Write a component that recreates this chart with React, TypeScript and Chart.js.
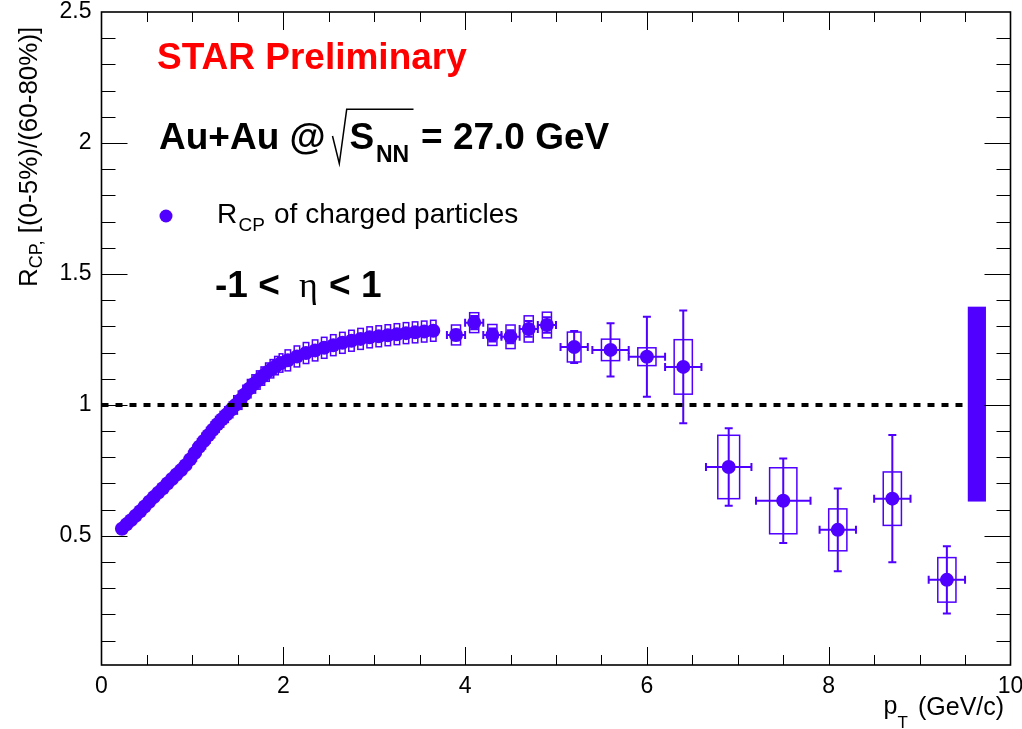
import React, { useEffect, useRef } from "react";
import { Chart, registerables } from "chart.js";

Chart.register(...registerables);

// ---------------- data ----------------
const pt = [
  0.225, 0.275, 0.325, 0.375, 0.425, 0.475, 0.525, 0.575, 0.625, 0.675,
  0.725, 0.775, 0.825, 0.875, 0.925, 0.975, 1.025, 1.075, 1.125, 1.175,
  1.225, 1.275, 1.325, 1.375, 1.425, 1.475, 1.525, 1.575, 1.625, 1.675,
  1.725, 1.775, 1.825, 1.875, 1.925, 1.975,
  2.05, 2.15, 2.25, 2.35, 2.45, 2.55, 2.65, 2.75, 2.85, 2.95,
  3.05, 3.15, 3.25, 3.35, 3.45, 3.55, 3.65,
  3.9, 4.1, 4.3, 4.5, 4.7, 4.9,
  5.2, 5.6, 6.0, 6.4, 6.9, 7.5, 8.1, 8.7, 9.3,
];

const rcp = [
  0.527, 0.544, 0.56, 0.577, 0.594, 0.612, 0.63, 0.648, 0.665, 0.682,
  0.7, 0.717, 0.734, 0.751, 0.77, 0.792, 0.816, 0.84, 0.862, 0.884,
  0.905, 0.926, 0.945, 0.963, 0.981, 1.0, 1.018, 1.04, 1.062, 1.08,
  1.095, 1.11, 1.125, 1.138, 1.15, 1.16,
  1.17, 1.185, 1.198, 1.208, 1.218, 1.228, 1.237, 1.245, 1.252, 1.258,
  1.262, 1.266, 1.27, 1.274, 1.277, 1.28, 1.283,
  1.267, 1.314, 1.267, 1.26, 1.29, 1.305,
  1.221, 1.21, 1.184, 1.145, 0.763, 0.634, 0.523, 0.642, 0.332,
];

const statY = [
  0.005, 0.005, 0.005, 0.005, 0.005, 0.005, 0.005, 0.005, 0.005, 0.005,
  0.005, 0.005, 0.005, 0.005, 0.005, 0.005, 0.005, 0.005, 0.005, 0.005,
  0.005, 0.005, 0.005, 0.005, 0.005, 0.005, 0.005, 0.005, 0.005, 0.005,
  0.005, 0.005, 0.005, 0.005, 0.005, 0.005,
  0.006, 0.006, 0.006, 0.006, 0.006, 0.007, 0.007, 0.008, 0.008, 0.009,
  0.01, 0.01, 0.011, 0.012, 0.013, 0.014, 0.015,
  0.02, 0.025, 0.025, 0.025, 0.03, 0.03,
  0.061, 0.102, 0.153, 0.215, 0.148, 0.161, 0.158, 0.243, 0.128,
];

const statX = [
  0, 0, 0, 0, 0, 0, 0, 0, 0, 0,
  0, 0, 0, 0, 0, 0, 0, 0, 0, 0,
  0, 0, 0, 0, 0, 0, 0, 0, 0, 0,
  0, 0, 0, 0, 0, 0,
  0, 0, 0, 0, 0, 0, 0, 0, 0, 0,
  0, 0, 0, 0, 0, 0, 0,
  0.1, 0.1, 0.1, 0.1, 0.1, 0.1,
  0.15, 0.2, 0.2, 0.2, 0.25, 0.3, 0.2, 0.2, 0.2,
];

const sysY = [
  0.02, 0.02, 0.02, 0.02, 0.02, 0.02, 0.02, 0.02, 0.02, 0.02,
  0.02, 0.02, 0.02, 0.02, 0.02, 0.02, 0.03, 0.03, 0.03, 0.03,
  0.03, 0.03, 0.03, 0.03, 0.03, 0.035, 0.035, 0.035, 0.035, 0.035,
  0.035, 0.035, 0.035, 0.035, 0.035, 0.035,
  0.04, 0.04, 0.04, 0.04, 0.04, 0.04, 0.04, 0.04, 0.04, 0.04,
  0.04, 0.04, 0.04, 0.04, 0.04, 0.04, 0.04,
  0.038, 0.038, 0.04, 0.045, 0.05, 0.049,
  0.057, 0.041, 0.034, 0.104, 0.121, 0.126, 0.08, 0.102, 0.085,
];

const sysX = [
  0.02, 0.02, 0.02, 0.02, 0.02, 0.02, 0.02, 0.02, 0.02, 0.02,
  0.02, 0.02, 0.02, 0.02, 0.02, 0.02, 0.02, 0.02, 0.02, 0.02,
  0.02, 0.02, 0.02, 0.02, 0.02, 0.02, 0.02, 0.02, 0.02, 0.02,
  0.02, 0.02, 0.02, 0.02, 0.02, 0.02,
  0.03, 0.03, 0.03, 0.03, 0.03, 0.03, 0.03, 0.03, 0.03, 0.03,
  0.03, 0.03, 0.03, 0.03, 0.03, 0.03, 0.03,
  0.05, 0.05, 0.05, 0.05, 0.05, 0.05,
  0.075, 0.1, 0.1, 0.1, 0.12, 0.15, 0.1, 0.1, 0.1,
];

// normalization uncertainty band
const normX = [9.53, 9.73];
const normY = [0.631, 1.375];

// reference line at unity
const unityX = [0, 9.5];
const unityY = [1, 1];

const xTickValues = [0, 2, 4, 6, 8, 10];
const xTickLabels = ["0", "2", "4", "6", "8", "10"];
const yTickValues = [0.5, 1, 1.5, 2, 2.5];
const yTickLabels = ["0.5", "1", "1.5", "2", "2.5"];

const COLOR = "#5000ff";
const FONT = '"Liberation Sans", Arial, Helvetica, sans-serif';

// ---------------- plugins ----------------
const errorPlugin = {
  id: "rootErrors",
  beforeDatasetsDraw(chart: any) {
    const { ctx } = chart;
    const xs = chart.scales.x;
    const ys = chart.scales.y;
    ctx.save();
    ctx.strokeStyle = COLOR;
    ctx.fillStyle = COLOR;
    // normalization band
    const bx0 = xs.getPixelForValue(normX[0]);
    const bx1 = xs.getPixelForValue(normX[1]);
    const by0 = ys.getPixelForValue(normY[1]);
    const by1 = ys.getPixelForValue(normY[0]);
    ctx.fillRect(bx0, by0, bx1 - bx0, by1 - by0);

    // systematic boxes
    ctx.lineWidth = 1.5;
    for (let i = 0; i < pt.length; i++) {
      const l = xs.getPixelForValue(pt[i] - sysX[i]);
      const r = xs.getPixelForValue(pt[i] + sysX[i]);
      const t = ys.getPixelForValue(rcp[i] + sysY[i]);
      const b = ys.getPixelForValue(rcp[i] - sysY[i]);
      ctx.strokeRect(l, t, r - l, b - t);
    }
    // statistical error bars
    ctx.lineWidth = 2;
    const cap = 4;
    for (let i = 0; i < pt.length; i++) {
      const cx = xs.getPixelForValue(pt[i]);
      const cy = ys.getPixelForValue(rcp[i]);
      if (statY[i] > 0) {
        const t = ys.getPixelForValue(rcp[i] + statY[i]);
        const b = ys.getPixelForValue(rcp[i] - statY[i]);
        ctx.beginPath();
        ctx.moveTo(cx, t);
        ctx.lineTo(cx, b);
        ctx.moveTo(cx - cap, t);
        ctx.lineTo(cx + cap, t);
        ctx.moveTo(cx - cap, b);
        ctx.lineTo(cx + cap, b);
        ctx.stroke();
      }
      if (statX[i] > 0) {
        const l = xs.getPixelForValue(pt[i] - statX[i]);
        const r = xs.getPixelForValue(pt[i] + statX[i]);
        ctx.beginPath();
        ctx.moveTo(l, cy);
        ctx.lineTo(r, cy);
        ctx.moveTo(l, cy - cap);
        ctx.lineTo(l, cy + cap);
        ctx.moveTo(r, cy - cap);
        ctx.lineTo(r, cy + cap);
        ctx.stroke();
      }
    }
    ctx.restore();
  },
};

const framePlugin = {
  id: "rootFrame",
  afterDraw(chart: any) {
    const { ctx, chartArea: a } = chart;
    const xs = chart.scales.x;
    const ys = chart.scales.y;
    ctx.save();
    ctx.strokeStyle = "#000";
    ctx.lineWidth = 1;
    ctx.beginPath();
    for (let k = 1; k < 25; k++) {
      const v = k / 10;
      const py = Math.round(ys.getPixelForValue(v)) + 0.5;
      const len = k % 5 === 0 ? 26 : 14;
      ctx.moveTo(a.left, py);
      ctx.lineTo(a.left + len, py);
      ctx.moveTo(a.right, py);
      ctx.lineTo(a.right - len, py);
    }
    for (let k = 1; k < 20; k++) {
      const v = k * 0.5;
      const px = Math.round(xs.getPixelForValue(v)) + 0.5;
      const len = k % 4 === 0 ? 18 : 10;
      ctx.moveTo(px, a.bottom);
      ctx.lineTo(px, a.bottom - len);
      ctx.moveTo(px, a.top);
      ctx.lineTo(px, a.top + len);
    }
    ctx.stroke();
    ctx.lineWidth = 1.6;
    ctx.strokeRect(a.left, a.top, a.right - a.left, a.bottom - a.top);
    ctx.restore();
  },
};

const textPlugin = {
  id: "rootText",
  afterDraw(chart: any) {
    const { ctx } = chart;
    ctx.save();
    ctx.textBaseline = "alphabetic";
    ctx.textAlign = "left";

    ctx.fillStyle = "#ff0000";
    ctx.font = `bold 37px ${FONT}`;
    ctx.fillText("STAR Preliminary", 157, 68.5);

    ctx.fillStyle = "#000";
    ctx.font = `bold 37px ${FONT}`;
    ctx.fillText("Au+Au @", 159, 148.5);
    ctx.fillText("S", 349.5, 148.5);
    ctx.fillText("= 27.0 GeV", 421, 148.5);
    ctx.font = `bold 23px ${FONT}`;
    ctx.fillText("NN", 376, 161.5);
    // square-root sign
    ctx.strokeStyle = "#000";
    ctx.lineWidth = 1.5;
    ctx.beginPath();
    ctx.moveTo(332.5, 136);
    ctx.lineTo(339.3, 163.5);
    ctx.lineTo(346.7, 109.3);
    ctx.lineTo(413.5, 109.3);
    ctx.stroke();

    // legend
    ctx.fillStyle = COLOR;
    ctx.beginPath();
    ctx.arc(166, 216, 6.5, 0, Math.PI * 2);
    ctx.fill();
    ctx.fillStyle = "#000";
    ctx.font = `28px ${FONT}`;
    ctx.fillText("R", 217, 222.7);
    ctx.fillText("of charged particles", 274, 222.7);
    ctx.font = `19px ${FONT}`;
    ctx.fillText("CP", 238.5, 230.7);

    // eta range
    ctx.font = `bold 37px ${FONT}`;
    ctx.fillText("-1 <", 215, 296.7);
    ctx.fillText("< 1", 329, 296.7);
    ctx.font = `36px "Liberation Serif", "DejaVu Serif", serif`;
    ctx.fillText("\u03b7", 299, 296.7);

    // x title
    ctx.font = `25px ${FONT}`;
    ctx.fillText("p", 883.5, 713.5);
    ctx.fillText("(GeV/c)", 918, 714.5);
    ctx.font = `17px ${FONT}`;
    ctx.fillText("T", 897.5, 728);

    // y title (rotated)
    ctx.translate(36.7, 287);
    ctx.rotate(-Math.PI / 2);
    ctx.font = `26px ${FONT}`;
    ctx.fillText("R", 0, 0);
    const wR = ctx.measureText("R").width;
    ctx.font = `18px ${FONT}`;
    ctx.fillText("CP,", wR, 5);
    const wS = ctx.measureText("CP,").width;
    ctx.font = `26px ${FONT}`;
    ctx.fillText(" [(0-5%)/(60-80%)]", wR + wS, 0);
    ctx.restore();
  },
};

// ---------------- component ----------------
export default function App() {
  const ref = useRef<HTMLCanvasElement | null>(null);

  useEffect(() => {
    if (!ref.current) return;
    const chart = new Chart(ref.current, {
      type: "scatter",
      data: {
        datasets: [
          {
            type: "line",
            data: unityX.map((x, i) => ({ x, y: unityY[i] })),
            borderColor: "#000",
            borderWidth: 4,
            borderDash: [7, 7],
            pointRadius: 0,
            fill: false,
            order: 0,
          } as any,
          {
            type: "scatter",
            data: pt.map((x, i) => ({ x, y: rcp[i] })),
            backgroundColor: COLOR,
            borderWidth: 0,
            pointRadius: 7,
            pointHoverRadius: 7,
            order: 1,
          },
        ],
      },
      options: {
        animation: false,
        responsive: false,
        maintainAspectRatio: false,
        events: [],
        layout: { padding: { left: 0, top: 12, right: 11.5, bottom: 0 } },
        plugins: { legend: { display: false }, tooltip: { enabled: false } },
        scales: {
          x: {
            type: "linear",
            min: 0,
            max: 10,
            grid: { display: false, drawTicks: false, tickLength: 0 },
            border: { display: false },
            afterBuildTicks: (s: any) => {
              s.ticks = xTickValues.map((v) => ({ value: v }));
            },
            afterFit: (s: any) => {
              s.height = 64;
              s.paddingLeft = 0;
              s.paddingRight = 0;
            },
            ticks: {
              autoSkip: false,
              maxRotation: 0,
              padding: 8,
              color: "#000",
              font: { family: FONT, size: 23 },
              callback: (_v: any, i: number) => xTickLabels[i],
            },
          },
          y: {
            type: "linear",
            min: 0.007,
            max: 2.5,
            grid: { display: false, drawTicks: false, tickLength: 0 },
            border: { display: false },
            afterBuildTicks: (s: any) => {
              s.ticks = yTickValues.map((v) => ({ value: v }));
            },
            afterFit: (s: any) => {
              s.width = 101.5;
              s.paddingTop = 0;
              s.paddingBottom = 0;
            },
            ticks: {
              autoSkip: false,
              padding: 10,
              color: "#000",
              font: { family: FONT, size: 23 },
              callback: (_v: any, i: number) => yTickLabels[i],
            },
          },
        },
      },
      plugins: [errorPlugin, framePlugin, textPlugin],
    });
    return () => chart.destroy();
  }, []);

  return (
    <div
      style={{
        position: "fixed",
        left: 0,
        top: 0,
        width: 1022,
        height: 729,
        background: "#fff",
      }}
    >
      <canvas ref={ref} width={1022} height={729} style={{ width: 1022, height: 729, display: "block" }} />
    </div>
  );
}
